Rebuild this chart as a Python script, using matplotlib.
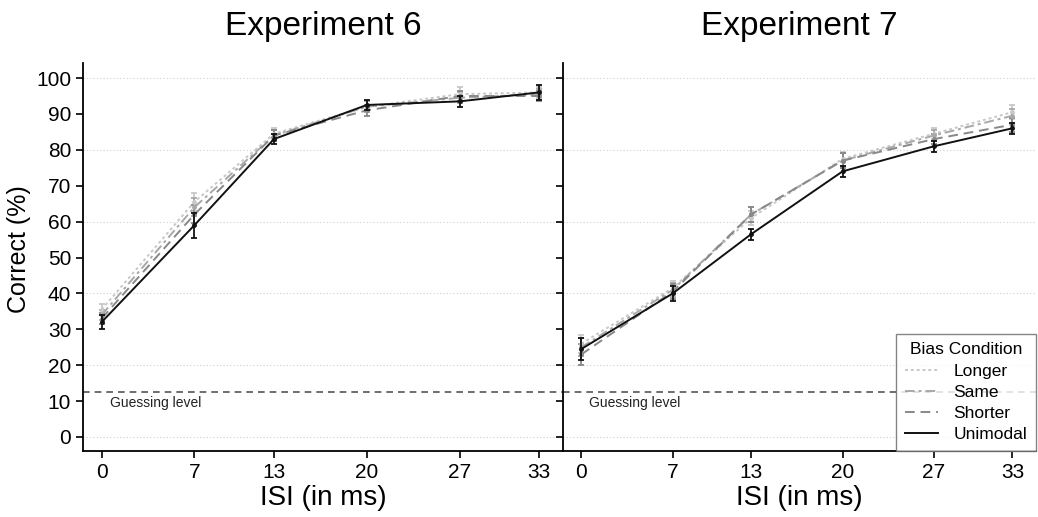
import matplotlib
matplotlib.use("Agg")
import matplotlib.pyplot as plt
from matplotlib.lines import Line2D

plt.rcParams["font.family"] = ["Liberation Sans", "DejaVu Sans"]

isi = [0, 7, 13, 20, 27, 33]
condicoes = ["Longer", "Same", "Shorter", "Unimodal"]

# Experimento 6: médias e erro-padrão por condição
exp6_longer = [35.5, 65.5, 84.5, 92.0, 95.5, 96.0]
exp6_same = [34.0, 64.0, 84.0, 92.0, 94.5, 95.5]
exp6_shorter = [33.0, 62.0, 84.0, 91.0, 95.0, 95.0]
exp6_unimodal = [32.0, 59.0, 83.0, 92.5, 93.5, 96.0]
exp6_err_longer = [1.5, 2.5, 1.5, 1.5, 2.0, 1.5]
exp6_err_same = [1.5, 2.5, 1.5, 1.5, 1.5, 1.5]
exp6_err_shorter = [1.5, 2.5, 1.5, 1.5, 1.5, 1.5]
exp6_err_unimodal = [2.0, 3.5, 1.5, 1.5, 1.5, 2.0]

# Experimento 7
exp7_longer = [26.0, 41.5, 61.0, 77.5, 84.5, 90.5]
exp7_same = [25.0, 41.0, 62.0, 77.0, 84.0, 89.5]
exp7_shorter = [23.0, 40.5, 62.0, 77.0, 83.0, 87.0]
exp7_unimodal = [24.5, 40.0, 56.5, 74.0, 81.0, 86.0]
exp7_err_longer = [2.5, 2.0, 2.0, 2.0, 1.5, 2.0]
exp7_err_same = [2.5, 2.0, 2.0, 2.0, 1.5, 2.0]
exp7_err_shorter = [3.0, 2.0, 2.0, 2.0, 1.5, 2.0]
exp7_err_unimodal = [3.0, 2.0, 1.5, 1.5, 1.5, 1.5]

nivel_chute = 12.5

estilos = {
    "Longer": dict(color="#c8c8c8", ls=(0, (1.5, 1.5))),
    "Same": dict(color="#a8a8a8", ls=(0, (5, 2, 1.5, 2))),
    "Shorter": dict(color="#888888", ls=(0, (5, 3))),
    "Unimodal": dict(color="#111111", ls="-"),
}

paineis = [
    ("Experiment 6",
     [exp6_longer, exp6_same, exp6_shorter, exp6_unimodal],
     [exp6_err_longer, exp6_err_same, exp6_err_shorter, exp6_err_unimodal]),
    ("Experiment 7",
     [exp7_longer, exp7_same, exp7_shorter, exp7_unimodal],
     [exp7_err_longer, exp7_err_same, exp7_err_shorter, exp7_err_unimodal]),
]

fig = plt.figure(figsize=(10.38, 5.17), dpi=100)
ax_esq = fig.add_axes([0.080, 0.1277, 0.4624, 0.7505])
ax_dir = fig.add_axes([0.5424, 0.1277, 0.4556, 0.7505], sharey=ax_esq)

for ax, (titulo, medias, erros) in zip([ax_esq, ax_dir], paineis):
    for y in range(0, 101, 20):
        ax.axhline(y, color="#cfcfcf", lw=0.8, ls=(0, (1, 2)), zorder=0)
    ax.axhline(nivel_chute, color="#555555", lw=1.2, ls=(0, (4, 3)), zorder=1)
    ax.text(0.6, nivel_chute - 1.0, "Guessing level", fontsize=10, va="top",
            color="#222222")

    for nome, m, e in zip(condicoes, medias, erros):
        st = estilos[nome]
        ax.errorbar(isi, m, yerr=e, color=st["color"], ls=st["ls"], lw=1.4,
                    marker="o", ms=2.5, capsize=2.5, elinewidth=1.3,
                    capthick=1.3, zorder=5 if nome == "Unimodal" else 3)

    ax.set_title(titulo, fontsize=24, pad=20)
    ax.set_xlim(-1.4, 34.8)
    ax.set_ylim(-3.9, 104.2)
    ax.set_xticks(isi)
    ax.set_yticks(range(0, 101, 10))
    ax.tick_params(labelsize=15, length=5, width=1.2, direction="out")
    ax.set_xlabel("ISI (in ms)", fontsize=20, labelpad=2)
    for lado in ["top", "right"]:
        ax.spines[lado].set_visible(False)
    for lado in ["left", "bottom"]:
        ax.spines[lado].set_linewidth(1.3)

ax_esq.set_ylabel("Correct (%)", fontsize=18)
ax_esq.yaxis.set_label_coords(-0.108, 0.52)
ax_dir.tick_params(axis="y", labelleft=False)

handles = [Line2D([], [], color=estilos[n]["color"], ls=estilos[n]["ls"], lw=1.4)
           for n in condicoes]
leg = ax_dir.legend(handles, condicoes, title="Bias Condition", loc="lower right",
                    bbox_to_anchor=(1.0, 0.0), borderaxespad=0.0,
                    fontsize=12.5, title_fontsize=12.5, frameon=True,
                    fancybox=False, handlelength=1.9, handletextpad=0.9,
                    borderpad=0.5, labelspacing=0.35)
leg.get_frame().set_edgecolor("#666666")
leg.get_frame().set_linewidth(1.0)

fig.savefig("out.png", dpi=100)
